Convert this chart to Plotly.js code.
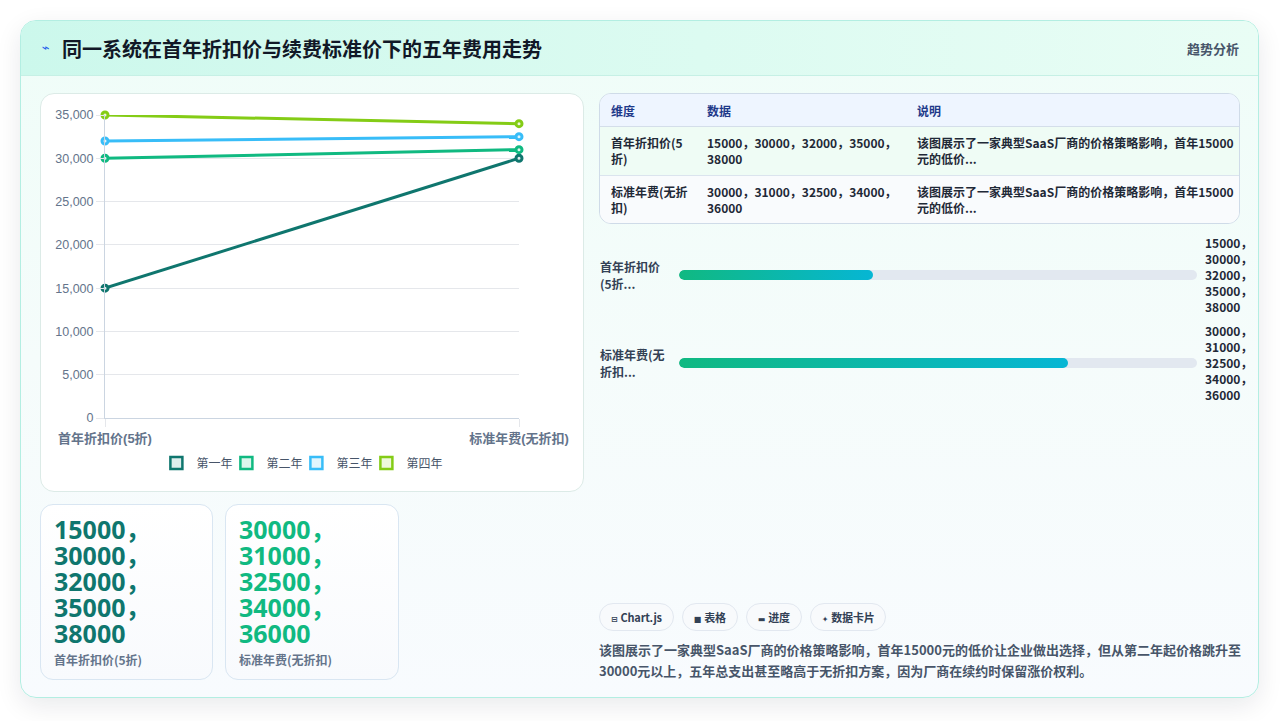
<!DOCTYPE html>
<html>
<head>
<meta charset="utf-8">
<script src="https://cdn.plot.ly/plotly-3.0.1.min.js"></script>
<style>
html,body{margin:0;padding:0;background:#ffffff;}
body{width:1280px;height:721px;position:relative;overflow:hidden;font-family:"Noto Sans CJK SC","Noto Sans",sans-serif;}
#frame{position:absolute;left:20px;top:20px;width:1239px;height:678px;box-sizing:border-box;border:1px solid #b3eee2;border-radius:16px;background:linear-gradient(180deg,#effdf8 0%,#f5fcfb 50%,#f8fbfe 100%);box-shadow:0 8px 26px rgba(15,23,42,0.09);overflow:hidden;}
#header{position:absolute;left:0;top:0;width:100%;height:55px;box-sizing:border-box;border-bottom:1px solid #c6f0e5;background:linear-gradient(90deg,#ccf8ec 0%,#dcfbf1 55%,#e9fdf5 100%);}
.abs{position:absolute;}
#icon{left:42px;top:39px;font-size:13px;line-height:18px;color:#2563eb;font-family:"DejaVu Sans",sans-serif;}
#title{left:62px;top:35px;font-size:20px;line-height:28px;font-weight:700;color:#111827;white-space:nowrap;}
#tag{left:1187px;top:39px;font-size:13px;line-height:20px;font-weight:600;color:#475569;white-space:nowrap;}
#chartCard{left:40px;top:93px;width:544px;height:399px;box-sizing:border-box;border:1px solid #dcebe7;border-radius:14px;background:#ffffff;overflow:hidden;}
#plot{position:absolute;left:0;top:0;width:542px;height:397px;}
.stat{top:504px;height:176px;box-sizing:border-box;border:1px solid #d9e6f2;border-radius:13px;background:linear-gradient(180deg,#ffffff 0%,#f8fafd 100%);padding:11px 10px 0 13px;}
.statNum{font-family:"Open Sans","Noto Sans CJK SC",sans-serif;font-size:25px;line-height:26px;font-weight:700;word-break:normal;}
.statCap{margin-top:5px;font-size:12px;line-height:18px;font-weight:700;color:#64748b;white-space:nowrap;}
#tableWrap{left:599px;top:93px;width:641px;height:131px;box-sizing:border-box;border:1px solid #cfdbe8;border-radius:12px;overflow:hidden;background:#f8fafc;}
#tableWrap table{border-collapse:collapse;width:639px;table-layout:fixed;}
#tableWrap th{height:32px;background:#eef5ff;color:#1e3a8a;font-size:12px;font-weight:700;text-align:left;padding:0 6px 0 11px;border-bottom:1px solid #d4deea;}
#tableWrap td{height:48px;font-size:12px;line-height:16px;font-weight:600;color:#1f2937;padding:0 6px 0 11px;vertical-align:middle;}
#tableWrap tr.r1 td{background:#effcf5;border-bottom:1px solid #dbe4ee;}
#tableWrap tr.r2 td{background:#f9fbfd;}
.pLabel{left:600px;width:68px;font-size:12px;line-height:17px;font-weight:700;color:#334155;}
.pTrack{left:679px;width:518px;height:10px;border-radius:5px;background:#e2e8f0;overflow:hidden;}
.pFill{height:10px;border-radius:5px;background:linear-gradient(90deg,#10b981 0%,#06b6d4 100%);}
.pVal{left:1205px;width:46px;font-size:12px;line-height:16.2px;font-weight:700;color:#1f2937;}
#chips{left:599px;top:603px;display:flex;gap:8px;}
.chip{height:28px;box-sizing:border-box;border:1px solid #e2e8f0;border-radius:14px;background:#f8fafc;padding:0 11px;font-size:11px;line-height:26px;font-weight:700;color:#334155;white-space:nowrap;letter-spacing:-0.2px;}
.chip span{font-family:"DejaVu Sans",sans-serif;font-size:8px;margin-right:3px;}
#desc{left:599px;top:639px;width:642px;font-size:13px;line-height:21px;font-weight:600;color:#475569;}
</style>
</head>
<body>
<div id="frame"><div id="header"></div></div>
<div id="icon" class="abs">⌁</div>
<div id="title" class="abs">同一系统在首年折扣价与续费标准价下的五年费用走势</div>
<div id="tag" class="abs">趋势分析</div>
<div id="chartCard" class="abs"><div id="plot"></div></div>
<div id="stats"></div>
<div id="tableWrap" class="abs"></div>
<div id="progress"></div>
<div id="chips" class="abs"></div>
<div id="desc" class="abs"></div>
<script>
// ---------- data ----------
const categories = ['首年折扣价(5折)', '标准年费(无折扣)'];
const yearNames = ['第一年', '第二年', '第三年', '第四年'];
const discountPrices = [15000, 30000, 32000, 35000, 38000];
const standardPrices = [30000, 31000, 32500, 34000, 36000];
const yTickValues = [0, 5000, 10000, 15000, 20000, 25000, 30000, 35000];
const progressScaleMax = 40000;
const chipLabels = ['Chart.js', '表格', '进度', '数据卡片'];
const chipIcons = ['⊟', '■', '▬', '✦'];
const description = '该图展示了一家典型SaaS厂商的价格策略影响，首年15000元的低价让企业做出选择，但从第二年起价格跳升至30000元以上，五年总支出甚至略高于无折扣方案，因为厂商在续约时保留涨价权利。';

// ---------- style ----------
const lineColors = ['#0f766e', '#10b981', '#38bdf8', '#84cc16'];
const lightColors = ['#dfeeed', '#dcf6ec', '#e1f5fd', '#eef8dc'];
const statColors = ['#0f766e', '#10b981'];
const seriesByCategory = [discountPrices, standardPrices];

// ---------- plotly chart ----------
const traces = [];
yearNames.forEach(function (name, i) {
  traces.push({
    type: 'scatter', mode: 'lines+markers', name: name,
    x: categories,
    y: seriesByCategory.map(function (arr) { return arr[i]; }),
    line: {color: lineColors[i], width: 3},
    marker: {size: 6, color: lightColors[i], line: {color: lineColors[i], width: 3}},
    cliponaxis: false, showlegend: false, hoverinfo: 'skip'
  });
});
yearNames.forEach(function (name, i) {
  const t = {
    type: 'bar', name: name, x: [categories[0]], y: [null],
    marker: {color: lightColors[i], line: {color: lineColors[i], width: 2.5}},
    showlegend: true, hoverinfo: 'skip'
  };
  if (i === yearNames.length - 1) t.legendwidth = 38;
  traces.push(t);
});
const fontFam = '"Liberation Sans", Arial, "Noto Sans CJK SC", sans-serif';
const layout = {
  width: 542, height: 397,
  margin: {l: 64, r: 64, t: 21, b: 73},
  paper_bgcolor: 'rgba(0,0,0,0)', plot_bgcolor: 'rgba(0,0,0,0)',
  font: {family: fontFam, color: '#64748b', size: 12},
  hovermode: false,
  showlegend: true,
  xaxis: {
    type: 'category', range: [0, 1], automargin: false, fixedrange: true,
    showgrid: true, gridcolor: '#e5e7eb', gridwidth: 1,
    showline: true, linecolor: '#cbd5e1', linewidth: 1,
    ticks: 'outside', ticklen: 8, tickcolor: '#e5e7eb', tickwidth: 1,
    zeroline: false,
    tickfont: {family: fontFam, size: 13, color: '#64748b', weight: 700}
  },
  yaxis: {
    range: [0, 35000], tickvals: yTickValues, tickformat: ',', automargin: false, fixedrange: true,
    showgrid: true, gridcolor: '#e5e7eb', gridwidth: 1,
    showline: true, linecolor: '#cbd5e1', linewidth: 1,
    ticks: 'outside', ticklen: 8, tickcolor: '#e5e7eb', tickwidth: 1,
    zeroline: false,
    tickfont: {family: fontFam, size: 12.5, color: '#64748b'}
  },
  legend: {
    orientation: 'h', x: 0.478, xanchor: 'center', y: -0.1485, yanchor: 'middle',
    font: {family: fontFam, size: 12, color: '#475569'},
    entrywidth: 25, bgcolor: 'rgba(0,0,0,0)'
  }
};
Plotly.newPlot('plot', traces, layout, {staticPlot: true, displayModeBar: false});

// ---------- stat cards ----------
const statLefts = [40, 225], statWidths = [173, 174];
let statHtml = '';
categories.forEach(function (cat, k) {
  statHtml += '<div class="abs stat" style="left:' + statLefts[k] + 'px;width:' + statWidths[k] + 'px">' +
    '<div class="statNum" style="color:' + statColors[k] + '">' + seriesByCategory[k].join('，') + '</div>' +
    '<div class="statCap">' + cat + '</div></div>';
});
document.getElementById('stats').innerHTML = statHtml;

// ---------- table ----------
const shortDesc = description.slice(0, 34) + '...';
let tbl = '<table><colgroup><col style="width:96px"><col style="width:210px"><col></colgroup>' +
  '<tr><th>维度</th><th>数据</th><th>说明</th></tr>';
categories.forEach(function (cat, k) {
  tbl += '<tr class="r' + (k + 1) + '"><td>' + cat + '</td><td style="padding-right:9px">' +
    seriesByCategory[k].join('，') + '</td><td style="padding-right:4px">' + shortDesc + '</td></tr>';
});
tbl += '</table>';
document.getElementById('tableWrap').innerHTML = tbl;

// ---------- progress rows ----------
const rowCenters = [275, 363];
let pHtml = '';
categories.forEach(function (cat, k) {
  const c = rowCenters[k];
  const pct = seriesByCategory[k][0] / progressScaleMax * 100;
  pHtml += '<div class="abs pLabel" style="top:' + (c - 17) + 'px">' + cat.slice(0, 8) + '...</div>';
  pHtml += '<div class="abs pTrack" style="top:' + (c - 5) + 'px"><div class="pFill" style="width:' + pct + '%"></div></div>';
  pHtml += '<div class="abs pVal" style="top:' + (c - 40.5) + 'px">' + seriesByCategory[k].join('，') + '</div>';
});
document.getElementById('progress').innerHTML = pHtml;

// ---------- chips & description ----------
document.getElementById('chips').innerHTML = chipLabels.map(function (t, i) {
  return '<div class="chip"><span>' + chipIcons[i] + '</span>' + t + '</div>';
}).join('');
document.getElementById('desc').textContent = description;
</script>
</body>
</html>
